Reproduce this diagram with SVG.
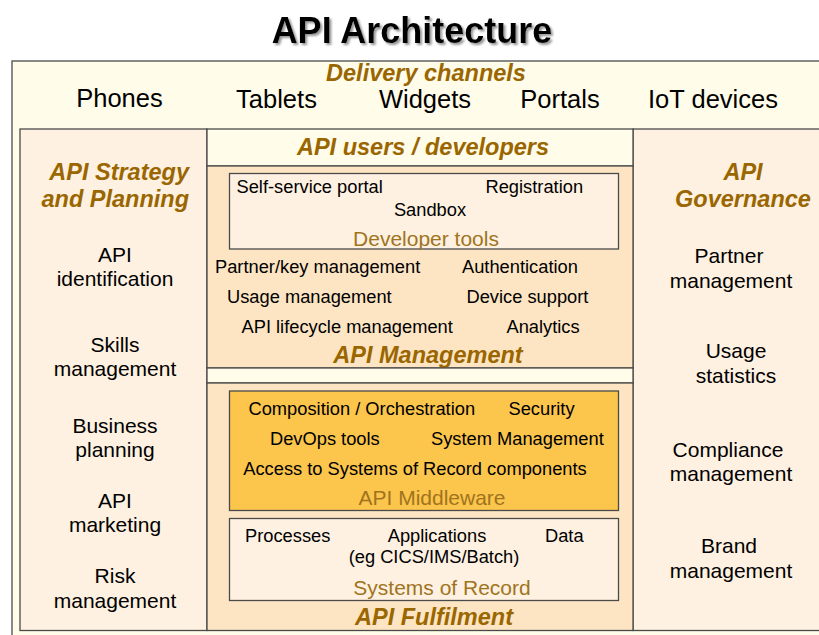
<svg xmlns="http://www.w3.org/2000/svg" width="819" height="635" viewBox="0 0 819 635">
<defs>
<filter id="ts" x="-5%" y="-20%" width="110%" height="150%">
<feDropShadow dx="2" dy="2" stdDeviation="0.8" flood-color="#8a8a8a" flood-opacity="0.9"/>
</filter>
<style>
text{font-family:"Liberation Sans",Arial,sans-serif;fill:#000}
.title{font-size:36px;font-weight:bold}
.ch{font-size:25.5px}
.hd{font-size:23.5px;font-weight:bold;font-style:italic;fill:#9A6600}
.lb{font-size:21px}
.it{font-size:18.3px}
.sub{font-size:21px;fill:#A0741E}
.box{stroke:#4a4a4a;stroke-width:1.3}
.mid{text-anchor:middle}
</style>
</defs>
<rect width="819" height="635" fill="#ffffff"/>
<g id="title">
<text class="title mid" x="412" y="43" filter="url(#ts)">API Architecture</text>
</g>
<g id="delivery-channels">
<rect class="box" x="12" y="61" width="830" height="590" fill="#FFFCE9"/>
<text class="hd mid" x="426" y="81">Delivery channels</text>
<text class="ch mid" x="119.5" y="107">Phones</text>
<text class="ch mid" x="276.5" y="108">Tablets</text>
<text class="ch mid" x="425" y="108">Widgets</text>
<text class="ch mid" x="560" y="108">Portals</text>
<text class="ch mid" x="713" y="108">IoT devices</text>
</g>
<g id="api-strategy">
<rect class="box" x="20" y="129" width="187" height="501.5" fill="#FEF1E1"/>
<text class="hd" text-anchor="end" x="189" y="180">API Strategy</text>
<text class="hd" text-anchor="end" x="189" y="207">and Planning</text>
<text class="lb mid" x="115" y="262">API</text>
<text class="lb mid" x="115" y="286">identification</text>
<text class="lb mid" x="115" y="352">Skills</text>
<text class="lb mid" x="115" y="376">management</text>
<text class="lb mid" x="115" y="433">Business</text>
<text class="lb mid" x="115" y="457">planning</text>
<text class="lb mid" x="115" y="508">API</text>
<text class="lb mid" x="115" y="532">marketing</text>
<text class="lb mid" x="115" y="583">Risk</text>
<text class="lb mid" x="115" y="608">management</text>
</g>
<g id="api-governance">
<rect class="box" x="633" y="129" width="210" height="501.5" fill="#FEF1E1"/>
<text class="hd mid" x="743" y="180">API</text>
<text class="hd mid" x="743" y="207">Governance</text>
<text class="lb mid" x="729" y="263">Partner</text>
<text class="lb mid" x="731" y="288">management</text>
<text class="lb mid" x="736" y="358">Usage</text>
<text class="lb mid" x="736" y="383">statistics</text>
<text class="lb mid" x="728" y="457">Compliance</text>
<text class="lb mid" x="731" y="481">management</text>
<text class="lb mid" x="729" y="553">Brand</text>
<text class="lb mid" x="731" y="578">management</text>
</g>
<g id="api-users">
<rect class="box" x="207" y="129" width="426" height="37" fill="#FFFCE9"/>
<text class="hd mid" x="423" y="155">API users / developers</text>
</g>
<g id="api-management">
<rect class="box" x="207" y="166" width="426" height="202" fill="#FDE5C3"/>
<text class="it" x="215" y="273">Partner/key management</text>
<text class="it" x="462" y="273">Authentication</text>
<text class="it" x="227" y="302.5">Usage management</text>
<text class="it" x="466.5" y="302.5">Device support</text>
<text class="it" x="241.5" y="332.5">API lifecycle management</text>
<text class="it" x="506.5" y="332.5">Analytics</text>
<text class="hd mid" x="428" y="362.5">API Management</text>
</g>
<g id="developer-tools">
<rect class="box" x="229.5" y="173.5" width="389" height="75.5" fill="#FEF1E1"/>
<text class="it" x="236.5" y="193">Self-service portal</text>
<text class="it" x="485.5" y="193">Registration</text>
<text class="it mid" x="430" y="215.5">Sandbox</text>
<text class="sub mid" x="426" y="246">Developer tools</text>
</g>
<g id="gap">
<rect class="box" x="207" y="368" width="426" height="15" fill="#FFFCE9"/>
</g>
<g id="api-fulfilment">
<rect class="box" x="207" y="383" width="426" height="247.5" fill="#FDE5C3"/>
<text class="hd mid" x="434" y="625">API Fulfilment</text>
</g>
<g id="api-middleware">
<rect class="box" x="229.5" y="391" width="389" height="119.5" fill="#FCC54C"/>
<text class="it" x="248.5" y="415">Composition / Orchestration</text>
<text class="it" x="508.5" y="415">Security</text>
<text class="it" x="270" y="445">DevOps tools</text>
<text class="it" x="431" y="445">System Management</text>
<text class="it mid" x="415" y="474.5">Access to Systems of Record components</text>
<text class="sub mid" x="432" y="504.5">API Middleware</text>
</g>
<g id="systems-of-record">
<rect class="box" x="229.5" y="518.5" width="389" height="82" fill="#FEF1E1"/>
<text class="it" x="245" y="541.5">Processes</text>
<text class="it mid" x="437" y="541.5">Applications</text>
<text class="it mid" x="434" y="562.5">(eg CICS/IMS/Batch)</text>
<text class="it" x="545" y="541.5">Data</text>
<text class="sub mid" x="442" y="595">Systems of Record</text>
</g>
<g id="connectors"></g>
</svg>
